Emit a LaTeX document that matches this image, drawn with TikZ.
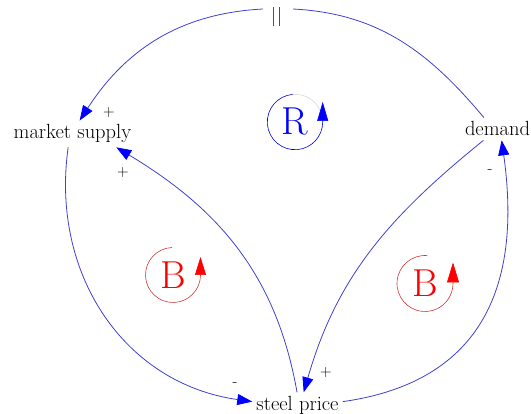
\documentclass[tikz,border=0pt]{standalone}
\usepackage{xcolor}
\usetikzlibrary{arrows.meta}
\definecolor{linkblue}{RGB}{64,64,208}
\definecolor{loopred}{RGB}{205,55,55}

\begin{document}
\begin{tikzpicture}[x=1pt,y=1pt,
  var/.style={inner sep=4pt,anchor=base,font=\fontsize{20.5}{22}\selectfont},
  sign/.style={inner sep=0pt,font=\fontsize{16}{17}\selectfont},
  link/.style={draw=linkblue,line width=0.8pt,
    -{Triangle[length=15pt,width=11pt,color=blue]}},
  loopsym/.style={inner sep=0pt,font=\fontsize{39}{41}\selectfont},
  loopline/.style={line width=0.6pt}]
\useasboundingbox (0,0) rectangle (531,414);
% variables
\node[var] (supply) at (72.5,275) {market supply};
\node[var] (demand) at (497.5,278) {demand};
\node[var] (price) at (297.5,3.3) {steel price};
% links
\foreach \a/\b/\o/\i/\l in {price.92/supply.-17/100/-31/1,
    demand.219/price.65/219/74/1,
    supply.252/price.175/262/172/1.05,
    price.5/demand.290/8/278/1.2}
  \draw[link] (\a) to[out=\o,in=\i,looseness=\l] (\b);
% delayed link over the top
\coordinate (delay) at (276,397);
\coordinate (gapL) at (263,405);
\coordinate (gapR) at (293,405);
\draw[link,-] (demand.140) to[out=130,in=-3] (gapR);
\draw[link] (gapL) to[out=183,in=57] (supply.62);
\draw[draw=linkblue,line width=0.8pt] ([shift={(-3,-9.5)}]delay) -- ++(0,19)
  ([shift={(3,-9.5)}]delay) -- ++(0,19);
% polarities
\node[sign] (s1) at (109,301) {+};
\node[sign] (s2) at (123,241) {+};
\node[sign] (s3) at (326,41) {+};
\node[sign] (s4) at (235,29) {-};
\node[sign] (s5) at (490,242) {-};
% loop symbols
\node[loopsym,text=blue] (rloop) at (295,292) {R};
\node[loopsym,text=red] (bleft) at (173,139) {B};
\node[loopsym,text=red] (bright) at (425,130.5) {B};
\draw[gray!35,line width=0.5pt] ([shift={(25:27.7)}]rloop.center)
  arc[start angle=25,end angle=95,radius=27.7];
\draw[loopline,draw=blue!85!black,-{Triangle[length=19pt,width=11pt,color=blue]}]
  ([shift={(95:27.7)}]rloop.center) arc[start angle=95,end angle=360,radius=27.7] -- ++(0,20);
\draw[loopline,draw=loopred,-{Triangle[length=18pt,width=11pt,color=red]}]
  ([shift={(92:27.5)}]bleft.center) arc[start angle=92,end angle=360,radius=27.5] -- ++(0,18);
\draw[loopline,draw=loopred,-{Triangle[length=20pt,width=12pt,color=red]}]
  ([shift={(85:28)}]bright.center) arc[start angle=85,end angle=360,radius=28] -- ++(0,21);
\end{tikzpicture}
\end{document}
